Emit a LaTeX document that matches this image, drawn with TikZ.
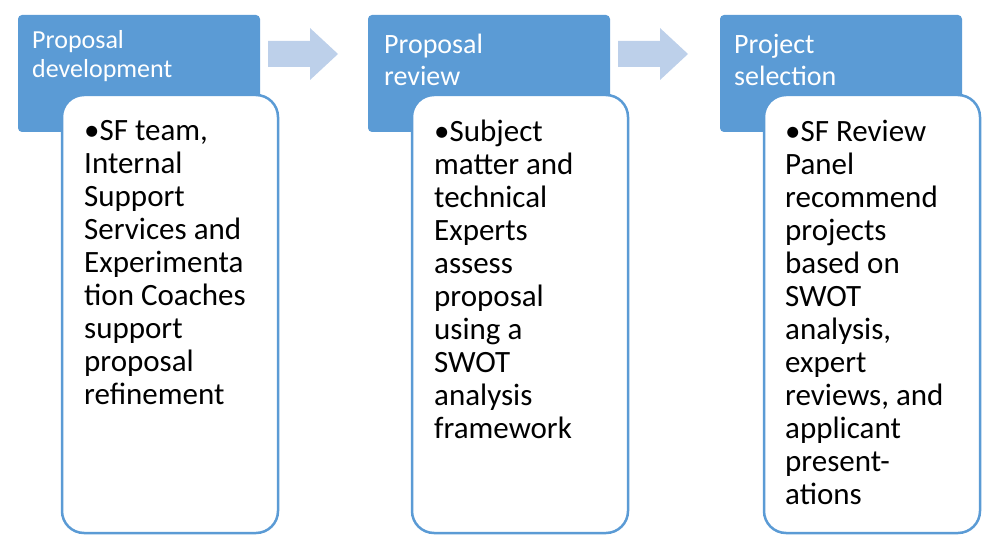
\documentclass[tikz,border=0pt]{standalone}
\usepackage{fontspec}
\setmainfont{Carlito}
\definecolor{hb}{HTML}{5B9BD5}
\definecolor{ar}{HTML}{BDD0EA}
\begin{document}
\begin{tikzpicture}[x=1pt,y=-1pt,
 head/.style={fill=hb,draw=none,rounded corners=4pt},
 card/.style={draw=hb,line width=2.5pt,fill=white,rounded corners=22pt},
 htxt/.style={anchor=north west,inner sep=0,text=white,align=left},
 btxt/.style={anchor=north west,inner sep=0,align=left,font=\fontsize{31}{33}\selectfont},
 barr/.style={fill=ar,draw=none}]
\useasboundingbox (0,0) rectangle (1000,548);
\foreach \i/\x in {1/18,2/368,3/720}{
 \path[head] (\x,15) rectangle ++(242,117);
 \draw[card] (\x+44,95) rectangle ++(216,438);
}
\foreach \x in {268,618}{
 \path[barr] (\x,41) -- (\x+42,41) -- (\x+42,28) -- (\x+70,54) -- (\x+42,80) -- (\x+42,67) -- (\x,67) -- cycle;
}
\node[htxt,font=\fontsize{26}{29}\selectfont] (h1) at (32,30) {Proposal\\development};
\node[htxt,font=\fontsize{28}{32}\selectfont] (h2) at (384,34) {Proposal\\review};
\node[htxt,font=\fontsize{28}{32}\selectfont] (h3) at (734,34) {Project\\selection};
\node[btxt] (t1) at (84,120) {•SF team,\\Internal\\Support\\Services and\\Experimenta\\tion Coaches\\support\\proposal\\refinement};
\node[btxt] (t2) at (434,120) {•Subject\\matter and\\technical\\Experts\\assess\\proposal\\using a\\SWOT\\analysis\\framework};
\node[btxt] (t3) at (785,120) {•SF Review\\Panel\\recommend\\projects\\based on\\SWOT\\analysis,\\expert\\reviews, and\\applicant\\present-\\ations};
\end{tikzpicture}
\end{document}
